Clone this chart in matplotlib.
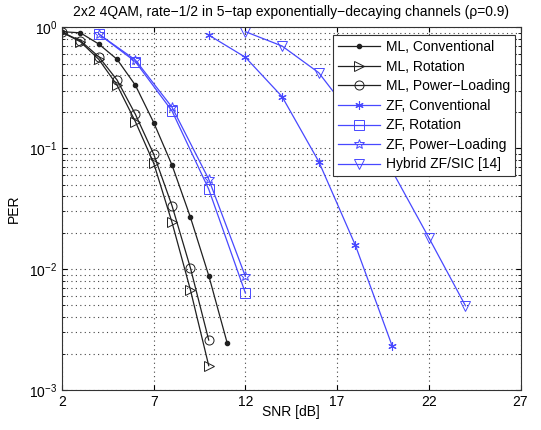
import matplotlib
matplotlib.use("Agg")
import matplotlib.pyplot as plt
import numpy as np

snr_ml_conv = [2, 3, 4, 5, 6, 7, 8, 9, 10, 11]
per_ml_conv = [0.92, 0.90, 0.728, 0.544, 0.332, 0.163, 0.0724, 0.0269, 0.00885, 0.00247]
snr_ml_rot = [2, 3, 4, 5, 6, 7, 8, 9, 10]
per_ml_rot = [0.91, 0.76, 0.544, 0.333, 0.166, 0.0752, 0.0243, 0.00675, 0.00159]
snr_ml_pl = [2, 3, 4, 5, 6, 7, 8, 9, 10]
per_ml_pl = [0.91, 0.775, 0.572, 0.367, 0.191, 0.0892, 0.0334, 0.01025, 0.00259]
snr_zf_conv = [10, 12, 14, 16, 18, 20]
per_zf_conv = [0.863, 0.565, 0.267, 0.0775, 0.0157, 0.00232]
snr_zf_rot = [4, 6, 8, 10, 12]
per_zf_rot = [0.88, 0.52, 0.203, 0.0458, 0.00633]
snr_zf_pl = [4, 6, 8, 10, 12]
per_zf_pl = [0.88, 0.537, 0.218, 0.0554, 0.00869]
snr_hyb = [12, 14, 16, 18, 20, 22, 24]
per_hyb = [0.92, 0.70, 0.421, 0.17, 0.065, 0.0182, 0.00497]

labels = ["ML, Conventional", "ML, Rotation", "ML, Power\u2212Loading",
          "ZF, Conventional", "ZF, Rotation", "ZF, Power\u2212Loading",
          "Hybrid ZF/SIC [14]"]
xticks = [2, 7, 12, 17, 22, 27]

plt.rcParams['font.family'] = ['Liberation Sans', 'DejaVu Sans']
fig = plt.figure(figsize=(5.41, 4.30), dpi=100)
ax = fig.add_axes([62/541, 1-390/430, (520.5-62)/541, (390-27.3)/430])

blk = '#202020'
blu = '#4848ff'
lw = 0.9
ax.plot(snr_ml_conv, per_ml_conv, color=blk, lw=lw, marker='.', ms=6, label=labels[0])
ax.plot(snr_ml_rot, per_ml_rot, color=blk, lw=lw, marker='>', ms=6.5, mfc='none', mew=0.7, label=labels[1])
ax.plot(snr_ml_pl, per_ml_pl, color=blk, lw=lw, marker='o', ms=6.5, mfc='none', mew=0.7, label=labels[2])
ax.plot(snr_zf_conv, per_zf_conv, color=blu, lw=lw, marker=(6, 2, 0), ms=6, mew=0.8, label=labels[3])
ax.plot(snr_zf_rot, per_zf_rot, color=blu, lw=lw, marker='s', ms=6.5, mfc='none', mew=0.7, label=labels[4])
ax.plot(snr_zf_pl, per_zf_pl, color=blu, lw=lw, marker='*', ms=7.5, mfc='none', mew=0.7, label=labels[5])
ax.plot(snr_hyb, per_hyb, color=blu, lw=lw, marker='v', ms=7, mfc='none', mew=0.7, label=labels[6])

ax.set_yscale('log')
ax.set_xlim(2, 27)
ax.set_ylim(1e-3, 1)
ax.set_xticks(xticks)
ax.set_xticklabels([str(t) for t in xticks])
ax.tick_params(which='both', direction='in', labelsize=10, top=True, right=True)
ax.grid(True, which='major', linestyle=(0, (1, 3)), color='#444444', lw=0.8)
ax.grid(True, which='minor', axis='y', linestyle=(0, (1, 3)), color='#444444', lw=0.8)
ax.set_xlabel('SNR [dB]', fontsize=10, labelpad=-3)
ax.set_ylabel('PER', fontsize=10, labelpad=6)
ax.set_title('2x2 4QAM, rate\u22121/2 in 5\u2212tap exponentially\u2212decaying channels (\u03c1=0.9)', fontsize=10, pad=8)
for s in ax.spines.values():
    s.set_color('#333333')
    s.set_linewidth(0.8)

leg = ax.legend(loc='upper right', bbox_to_anchor=(0.987, 0.978), fontsize=10, handlelength=3.0,
                fancybox=False, edgecolor='#333333', framealpha=1, borderpad=0.35,
                labelspacing=0.4, handletextpad=0.4, borderaxespad=0.0)
leg.get_frame().set_linewidth(0.8)

fig.savefig('out.png', dpi=100)
